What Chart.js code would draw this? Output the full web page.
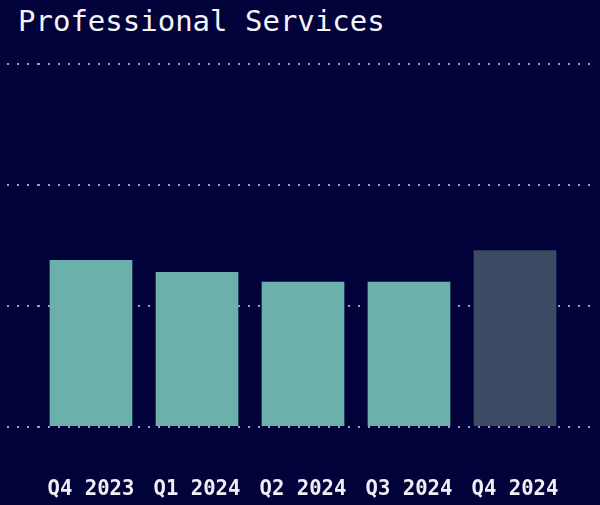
<!DOCTYPE html>
<html>
<head>
<meta charset="utf-8">
<script src="https://cdn.jsdelivr.net/npm/chart.js@4"></script>
<style>
  html, body { margin: 0; padding: 0; background: #02023a; }
  .wrap { position: relative; width: 600px; height: 505px; }
  .title {
    position: absolute; left: 18px; top: 7px; margin: 0;
    font: 29px/1 "DejaVu Sans Mono", monospace; color: #f4f4f8;
    white-space: pre;
  }
  canvas { position: absolute; left: 0; top: 0; }
</style>
</head>
<body>
<div class="wrap">
  <h1 class="title">Professional Services</h1>
  <canvas id="chart" width="600" height="505"></canvas>
</div>
<script>
const quarters = ["Q4 2023", "Q1 2024", "Q2 2024", "Q3 2024", "Q4 2024"];
const values = [13.8, 12.8, 12.0, 12.0, 14.6];
const barColors = ["#6cb0ab", "#6cb0ab", "#6cb0ab", "#6cb0ab", "#3c4a63"];
const yTicks = [0, 10, 20, 30];

const gridColor = "rgba(175,175,210,0.9)";
const dots = [2, 8];

new Chart(document.getElementById("chart"), {
  type: "bar",
  data: {
    labels: quarters,
    datasets: [{ data: values, backgroundColor: barColors, borderWidth: 0,
      barPercentage: 0.78, categoryPercentage: 1 }],
  },
  options: {
    responsive: false,
    animation: false,
    layout: { padding: { left: 7, right: 2, top: 64, bottom: 0 } },
    plugins: { legend: { display: false }, tooltip: { enabled: false } },
    scales: {
      x: {
        // invisible tick marks just push the labels down
        grid: { drawOnChartArea: false, color: "rgba(0,0,0,0)", tickLength: 47 },
        border: { display: false },
        afterFit: (s) => { s.height = 78; },
        ticks: {
          color: "#eeeef4", padding: 3, maxRotation: 0, minRotation: 0, autoSkip: false,
          font: { family: "DejaVu Sans Mono", size: 20.6, weight: "bold" },
        },
      },
      y: {
        min: yTicks[0], max: yTicks[yTicks.length - 1],
        afterBuildTicks: (s) => { s.ticks = yTicks.map((v) => ({ value: v })); },
        ticks: { display: false },
        grid: { color: gridColor, lineWidth: 2, tickLength: 31, tickBorderDash: dots },
        border: { display: false, dash: dots },
      },
      y2: {
        position: "right",
        min: yTicks[0], max: yTicks[yTicks.length - 1],
        afterBuildTicks: (s) => { s.ticks = yTicks.map((v) => ({ value: v })); },
        ticks: { display: false },
        grid: { color: gridColor, lineWidth: 2, tickLength: 30, tickBorderDash: dots, drawOnChartArea: false },
        border: { display: false },
      },
    },
  },
});
</script>
</body>
</html>
